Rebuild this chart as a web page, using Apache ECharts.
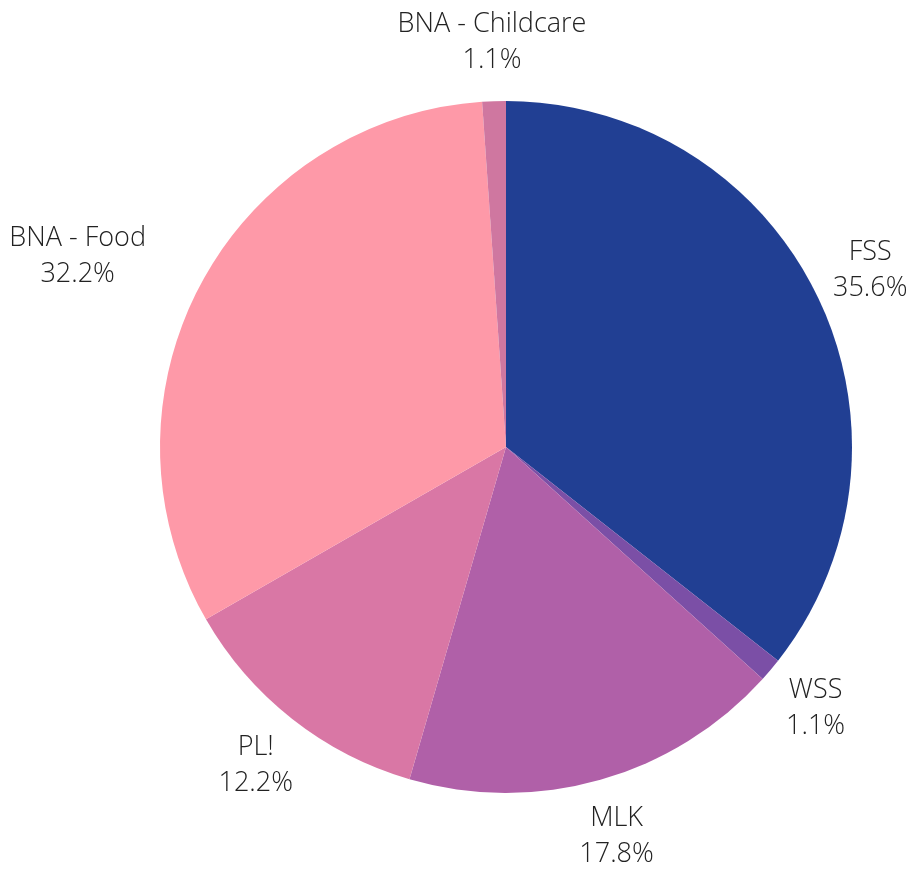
<!DOCTYPE html>
<html>
<head>
<meta charset="utf-8">
<script src="https://cdn.jsdelivr.net/npm/echarts@6/dist/echarts.min.js"></script>
<style>
  html, body { margin: 0; padding: 0; background: #fff; }
  #container { width: 912px; height: 869px; }
</style>
</head>
<body>
<div id="container"></div>
<script>
var names = ['FSS', 'WSS', 'MLK', 'PL!', 'BNA - Food', 'BNA - Childcare'];
var values = [35.6, 1.1, 17.8, 12.2, 32.2, 1.1];
var colors = ['#213f93', '#7b4fa6', '#b060a8', '#d977a5', '#fe99a8', '#cf77a0'];

var myChart = echarts.init(document.getElementById('container'));

var pieData = names.map(function (n, i) {
    return { name: n, value: values[i], itemStyle: { color: colors[i] } };
});

// second ring, invisible, only used to put the labels centred outside the pie
var labelData = names.map(function (n, i) {
    var d = { name: n, value: values[i], itemStyle: { color: 'rgba(0,0,0,0)' } };
    // the long label on the left is pushed off the pie edge
    if (n == 'BNA - Food') {
        d.label = { offset: [-71, 0] };
    }
    return d;
});

var option = {
    animation: false,
    series: [
        {
            type: 'pie',
            center: [506, 447],
            radius: 346,
            startAngle: 90,
            clockwise: true,
            data: pieData,
            label: { show: false },
            labelLine: { show: false },
            itemStyle: { borderWidth: 0 },
            emphasis: { disabled: true }
        },
        {
            type: 'pie',
            center: [506, 447],
            radius: [346, 458],
            startAngle: 90,
            clockwise: true,
            silent: true,
            data: labelData,
            label: {
                show: true,
                position: 'inside',
                formatter: function (p) {
                    return p.name + '\n' + p.value.toFixed(1) + '%';
                },
                fontFamily: 'Open Sans',
                fontWeight: 300,
                fontSize: 27,
                lineHeight: 36,
                color: '#222222'
            },
            labelLine: { show: false }
        }
    ]
};
myChart.setOption(option);
</script>
</body>
</html>
